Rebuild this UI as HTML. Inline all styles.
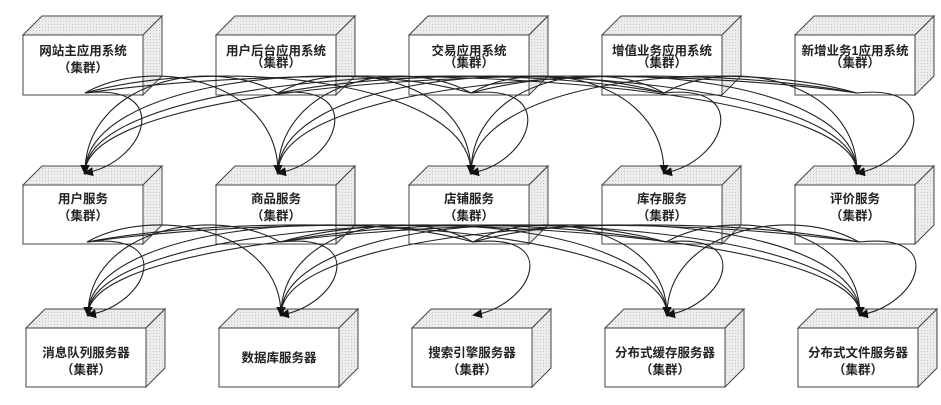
<!DOCTYPE html>
<html><head><meta charset="utf-8"><style>
html,body{margin:0;padding:0;background:#fff;width:941px;height:405px;overflow:hidden}
svg text{font-family:"Liberation Sans","Noto Sans CJK SC",sans-serif;font-size:12.5px;font-weight:bold;fill:#222;text-anchor:middle}
</style></head><body>
<svg id="s" width="941" height="405" viewBox="0 0 941 405" xmlns="http://www.w3.org/2000/svg">
<defs>
<pattern id="dots" width="3" height="3" patternUnits="userSpaceOnUse">
<rect width="3" height="3" fill="#ececec"/><rect width="1" height="1" fill="#c8c8c8"/></pattern>
<marker id="ah" markerWidth="10" markerHeight="9" refX="8" refY="4.5" orient="auto" markerUnits="userSpaceOnUse">
<path d="M0,0 L10,4.5 L0,9 Z" fill="#111"/></marker>
</defs>
<g id="boxes" stroke="#444" stroke-width="1"></g>
<g id="lines" fill="none" stroke="#222" stroke-width="1.1"></g>
<g id="labels">
<text x="83" y="55">网站主应用系统</text><text x="83" y="72">（集群）</text>
<text x="276" y="55">用户后台应用系统</text><text x="276" y="67">（集群）</text>
<text x="469" y="55">交易应用系统</text><text x="469" y="67">（集群）</text>
<text x="662" y="55">增值业务应用系统</text><text x="662" y="67">（集群）</text>
<text x="855" y="55">新增业务1应用系统</text><text x="855" y="67">（集群）</text>
<text x="83" y="203">用户服务</text><text x="83" y="220">（集群）</text>
<text x="276" y="203">商品服务</text><text x="276" y="220">（集群）</text>
<text x="469" y="203">店铺服务</text><text x="469" y="220">（集群）</text>
<text x="662" y="203">库存服务</text><text x="662" y="220">（集群）</text>
<text x="855" y="203">评价服务</text><text x="855" y="220">（集群）</text>
<text x="86" y="357">消息队列服务器</text><text x="86" y="374">（集群）</text>
<text x="279" y="362">数据库服务器</text>
<text x="472" y="357">搜索引擎服务器</text><text x="472" y="374">（集群）</text>
<text x="665" y="357">分布式缓存服务器</text><text x="665" y="374">（集群）</text>
<text x="858" y="357">分布式文件服务器</text><text x="858" y="374">（集群）</text>
</g>
</svg>
<script>
var NS="http://www.w3.org/2000/svg";
var B=document.getElementById("boxes"),L=document.getElementById("lines");
function el(p,t,a){var e=document.createElementNS(NS,t);for(var k in a)e.setAttribute(k,a[k]);p.appendChild(e);return e;}
var rows=[{y:35,h:60,dx:0},{y:185,h:59,dx:0},{y:328,h:59,dx:3}];
var d=19;
rows.forEach(function(r){for(var i=0;i<5;i++){var x=23+193*i+r.dx,w=120,y=r.y,h=r.h;
el(B,"path",{d:"M"+x+","+y+" L"+(x+d)+","+(y-d)+" L"+(x+w+d)+","+(y-d)+" L"+(x+w)+","+y+" Z",fill:"url(#dots)"});
el(B,"path",{d:"M"+(x+w)+","+y+" L"+(x+w+d)+","+(y-d)+" L"+(x+w+d)+","+(y+h-d)+" L"+(x+w)+","+(y+h)+" Z",fill:"url(#dots)"});
el(B,"rect",{x:x,y:y,width:w,height:h,fill:"#fff"});}});
function curve(x1,y1,x2,y2){var dd;
if(Math.abs(x1-x2)<5){dd="M"+x1+","+y1+" C"+(x1+90)+","+(y1-10)+" "+(x1+60)+","+(y2-10)+" "+x2+","+y2;}
else{dd="M"+x1+","+y1+" C"+(x1+(x2-x1)*0.35)+","+(y1-38)+" "+x2+","+(y1-12)+" "+x2+","+y2;}
el(L,"path",{d:dd,"marker-end":"url(#ah)"});}
for(var i=0;i<5;i++)for(var j=0;j<5;j++){
 if(j==3&&!(i==2||i==3))continue;
 curve(85+193*i,93,85+193*j,173);}
for(var i=0;i<5;i++)for(var j=0;j<5;j++){
 if(j==2&&i!=2)continue;
 curve(87+193*i,242,88+193*j,315);}
</script>
</body></html>
